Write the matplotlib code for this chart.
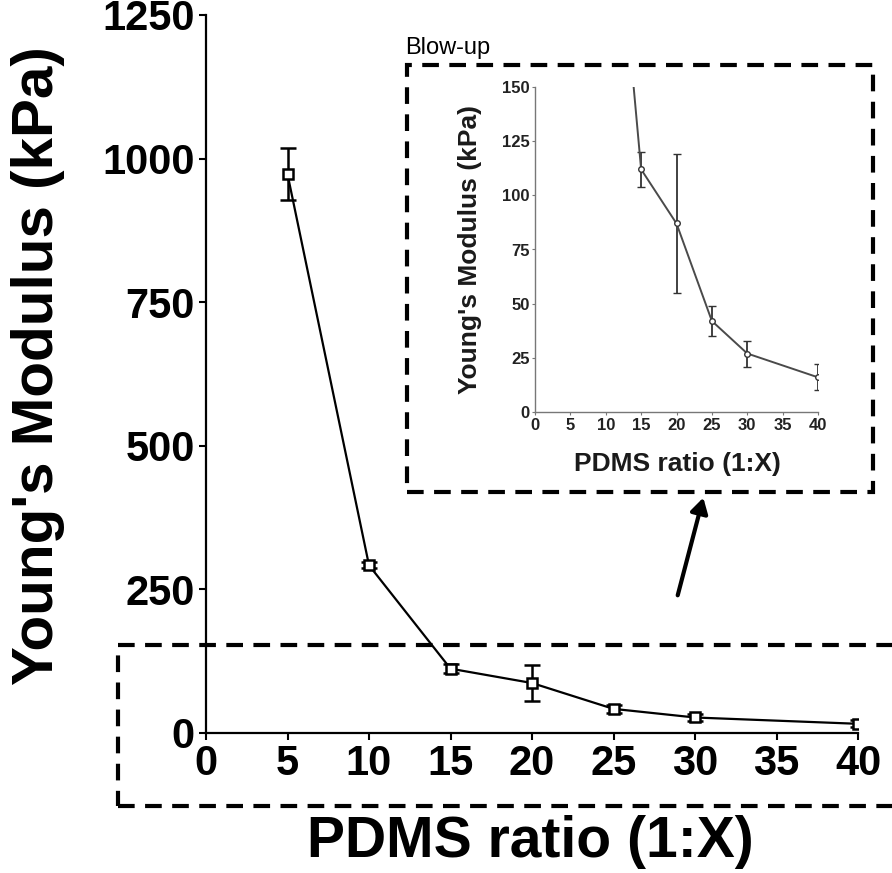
import matplotlib
matplotlib.use("Agg")
import matplotlib.pyplot as plt
from matplotlib.patches import Rectangle, FancyArrowPatch

# Data
ratio = [5, 10, 15, 20, 25, 30, 40]
modulus = [973, 292, 112, 87, 42, 27, 16]
err_lo = [45, 5, 8, 32, 7, 6, 6]
err_hi = [45, 5, 8, 32, 7, 6, 6]
xticks = [0, 5, 10, 15, 20, 25, 30, 35, 40]
yticks_main = [0, 250, 500, 750, 1000, 1250]
yticks_inset = [0, 25, 50, 75, 100, 125, 150]

W, H = 892, 873
fig = plt.figure(figsize=(W / 100, H / 100), dpi=100)
fam = ["Liberation Sans", "DejaVu Sans"]
plt.rcParams["font.family"] = fam

def fx(px):
    return px / W

def fy(py):
    return 1 - py / H

# Main axes
ax = fig.add_axes([fx(206), fy(733), fx(858) - fx(206), fy(15) - fy(733)])
ax.errorbar(ratio, modulus, yerr=[err_lo, err_hi], color="black", lw=1.6,
            marker="s", ms=7.5, mfc="white", mec="black", mew=1.8,
            capsize=6, capthick=1.8, elinewidth=1.8, zorder=3)
ax.set_xlim(0, 40)
ax.set_ylim(0, 1250)
ax.set_xticks(xticks)
ax.set_yticks(yticks_main)
for s in ["top", "right"]:
    ax.spines[s].set_visible(False)
for s in ["left", "bottom"]:
    ax.spines[s].set_linewidth(1.6)
ax.tick_params(axis="both", direction="out", length=5, width=1.5, labelsize=30, pad=3)
for lab in ax.get_xticklabels() + ax.get_yticklabels():
    lab.set_fontweight("bold")

fig.text(fx(38), fy(366), "Young's Modulus (kPa)", rotation=90, ha="center", va="center",
         fontsize=42, fontweight="bold")
fig.text(fx(530), fy(842), "PDMS ratio (1:X)", ha="center", va="center",
         fontsize=41, fontweight="bold")

# Inset axes
gray = "#4a4a4a"
ax2 = fig.add_axes([fx(535), fy(412), fx(818) - fx(535), fy(87) - fy(412)])
ax2.errorbar(ratio, modulus, yerr=[err_lo, err_hi], color=gray, lw=1.4,
             marker="o", ms=4, mfc="white", mec="#333333", mew=1.0,
             capsize=3, capthick=1.2, elinewidth=1.3, ecolor="#333333", zorder=3)
ax2.set_xlim(0, 40)
ax2.set_ylim(0, 150)
ax2.set_xticks(xticks)
ax2.set_yticks(yticks_inset)
for s in ["top", "right"]:
    ax2.spines[s].set_visible(False)
for s in ["left", "bottom"]:
    ax2.spines[s].set_linewidth(1.0)
    ax2.spines[s].set_color("#777777")
ax2.tick_params(axis="both", direction="out", length=2, width=0.8, colors="#777777",
                labelcolor="#222222", labelsize=12, pad=2)
for lab in ax2.get_xticklabels() + ax2.get_yticklabels():
    lab.set_fontweight("bold")

fig.text(fx(470), fy(250), "Young's Modulus (kPa)", rotation=90, ha="center", va="center",
         fontsize=19, fontweight="bold", color="#1a1a1a")
fig.text(fx(677), fy(464), "PDMS ratio (1:X)", ha="center", va="center",
         fontsize=19, fontweight="bold", color="#1a1a1a")

# Dashed boxes
dash = (0, (4, 2.5))
fig.patches.append(Rectangle((fx(407), fy(492)), fx(873) - fx(407), fy(65) - fy(492),
                             transform=fig.transFigure, fill=False, lw=3, ls=dash,
                             ec="black", zorder=5))
fig.patches.append(Rectangle((fx(118), fy(806)), fx(905) - fx(118), fy(645) - fy(806),
                             transform=fig.transFigure, fill=False, lw=3, ls=dash,
                             ec="black", zorder=5, clip_on=False))
fig.text(fx(405), fy(48), "Blow-up", ha="left", va="center", fontsize=17)

# Arrow
arr = FancyArrowPatch((fx(677), fy(598)), (fx(704), fy(495)), transform=fig.transFigure,
                      arrowstyle="-|>,head_length=6,head_width=3.5", lw=3, color="black",
                      mutation_scale=1.5)
fig.patches.append(arr)

fig.savefig("out.png", dpi=100)
